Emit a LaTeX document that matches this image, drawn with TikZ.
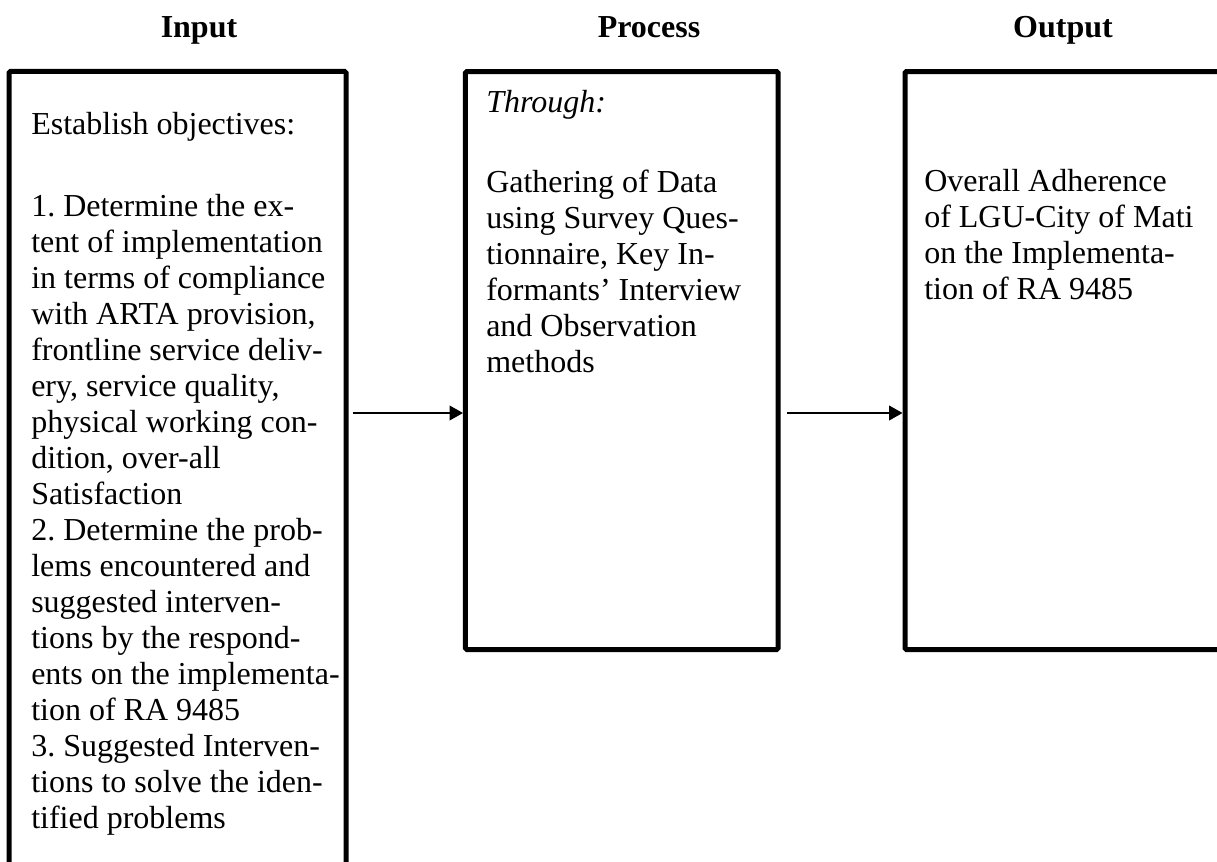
\documentclass[tikz,border=0pt]{standalone}
\usepackage{fontspec}
\setmainfont{Liberation Serif}
\usetikzlibrary{arrows.meta}
\frenchspacing

\begin{document}
\begin{tikzpicture}[
        x=0.75pt, y=-0.75pt,
        stage/.style={draw, rectangle, line width=3.75pt, rounded corners=1pt, inner sep=0pt},
        heading/.style={font=\fontsize{24}{27}\selectfont\bfseries, anchor=base, inner sep=0pt},
        body/.style={font=\fontsize{24}{27}\selectfont, align=left, anchor=north west, inner sep=0pt},
        flow/.style={line width=1.1pt},
        >={Triangle[length=10pt, width=11pt]}
    ]

    % Frame
    \useasboundingbox (0,0) rectangle (1217,861);
    \clip (0,0) rectangle (1217,861);

    % Headings
    \node[heading] (inputhead) at (199,37) {Input};
    \node[heading] (processhead) at (649,37) {Process};
    \node[heading] (outputhead) at (1063,37) {Output};

    % Boxes
    \node[stage, minimum width=252.75pt, minimum height=636.4pt] (inputbox) at (177.5,495.75) {};
    \node[stage, minimum width=234.4pt, minimum height=433.5pt] (processbox) at (621.75,360.5) {};
    \node[stage, minimum width=240pt, minimum height=433.5pt] (outputbox) at (1065,360.5) {};

    % Texts
    \node[body] (inputtext) at (31,108.8) {\strut Establish objectives:\\[35pt]
        1. Determine the ex-\\
        tent of implementation\\
        in terms of compliance\\
        with ARTA provision,\\
        frontline service deliv-\\
        ery, service quality,\\
        physical working con-\\
        dition, over-all\\
        Satisfaction\\
        2. Determine the prob-\\
        lems encountered and\\
        suggested interven-\\
        tions by the respond-\\
        ents on the implementa-\\
        tion of RA 9485\\
        3. Suggested Interven-\\
        tions to solve the iden-\\
        tified problems};
    \node[body] (processtext) at (486,86.8) {\strut\textit{Through:}\\[33pt]
        Gathering of Data\\
        using Survey Ques-\\
        tionnaire, Key In-\\
        formants’ Interview\\
        and Observation\\
        methods};
    \node[body] (outputtext) at (924,165.8) {\strut Overall Adherence\\
        of LGU-City of Mati\\
        on the Implementa-\\
        tion of RA 9485};

    % Edges
    \coordinate (flowline) at (0,413);
    \draw[->, flow, shorten <=3pt] (inputbox.east |- flowline) -- (processbox.west |- flowline);
    \draw[->, flow, shorten <=5pt] (processbox.east |- flowline) -- (outputbox.west |- flowline);

\end{tikzpicture}
\end{document}
